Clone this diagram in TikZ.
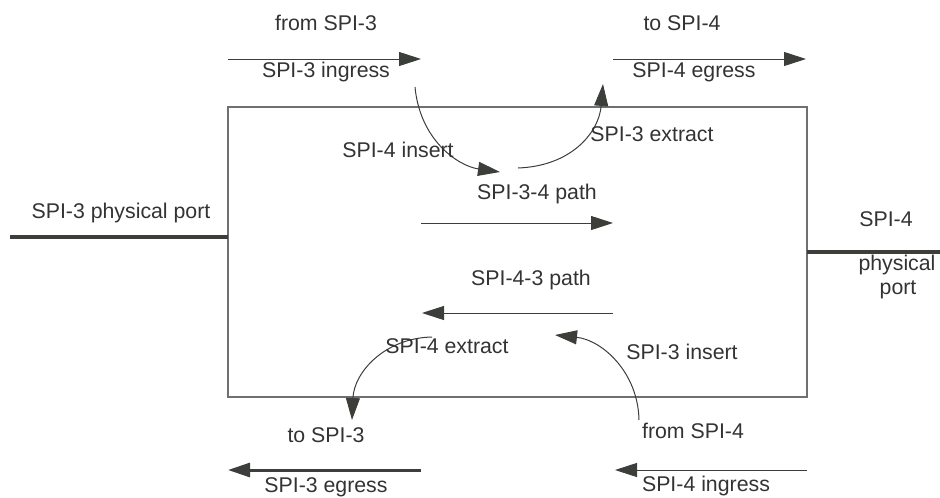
\documentclass[tikz,border=0pt]{standalone}
\usepackage{fontspec}
\setmainfont{Liberation Sans}
\usetikzlibrary{arrows.meta}
\definecolor{ink}{HTML}{3C3E3A}
\definecolor{txt}{HTML}{333333}
\definecolor{boxc}{HTML}{707070}
\begin{document}
\begin{tikzpicture}[x=1pt,y=-1pt,
  lbl/.style={anchor=base,inner sep=0pt,text=txt,font=\fontsize{21.3}{24}\selectfont},
  thin arrow/.style={draw=ink,line width=1pt,-{Triangle[length=22pt,width=14pt]}},
  thick line/.style={draw=ink,line width=4.5pt},
  boxstyle/.style={draw=boxc,line width=1.2pt}]
\useasboundingbox (0,0) rectangle (940,498);
% box
\coordinate (bl) at (228,107);
\coordinate (br) at (807,397);
\draw[boxstyle] (bl) rectangle (br);
% physical ports
\coordinate (p3a) at (10,237);
\coordinate (p3b) at (228,237);
\coordinate (p4a) at (807,252);
\coordinate (p4b) at (940,252);
\draw[thick line] (p3a) -- (p3b);
\draw[thick line] (p4a) -- (p4b);
% top arrows
\coordinate (ig1) at (228,59);
\coordinate (ig2) at (421,59);
\coordinate (eg1) at (613,59);
\coordinate (eg2) at (806,59);
\draw[thin arrow] (ig1) -- (ig2);
\draw[thin arrow] (eg1) -- (eg2);
% path arrows
\coordinate (pa1) at (421,223);
\coordinate (pa2) at (613,223);
\coordinate (pb1) at (613,313);
\coordinate (pb2) at (422,313);
\draw[thin arrow] (pa1) -- (pa2);
\draw[thin arrow] (pb1) -- (pb2);
% bottom arrows
\coordinate (si1) at (807,470);
\coordinate (si2) at (615,470);
\coordinate (se1) at (421,470);
\coordinate (se2) at (228,470);
\draw[thin arrow] (si1) -- (si2);
\draw[thin arrow,line width=3pt] (se1) -- (se2);
% curves
\coordinate (c1a) at (415,87);
\coordinate (c1b) at (500,172);
\draw[thin arrow] (c1a) .. controls (420,140) and (458,166) .. (c1b);
\coordinate (c2a) at (518,168);
\coordinate (c2b) at (603,84);
\draw[thin arrow] (c2a) .. controls (572,166) and (599,132) .. (c2b);
\coordinate (c3a) at (432,337);
\coordinate (c3b) at (352,420);
\draw[thin arrow] (c3a) .. controls (385,338) and (354,372) .. (c3b);
\coordinate (c4a) at (639,420);
\coordinate (c4b) at (555,335);
\draw[thin arrow] (c4a) .. controls (638,372) and (602,340) .. (c4b);
% labels
\node[lbl] (t1) at (326,30) {from SPI-3};
\node[lbl] (t2) at (326,77) {SPI-3 ingress};
\node[lbl] (t3) at (682,30) {to SPI-4};
\node[lbl] (t4) at (694,77) {SPI-4 egress};
\node[lbl] (t5) at (398,157) {SPI-4 insert};
\node[lbl] (t6) at (652,141) {SPI-3 extract};
\node[lbl] (t7) at (537,199) {SPI-3-4 path};
\node[lbl] (t8) at (531,285) {SPI-4-3 path};
\node[lbl] (t9) at (447,353) {SPI-4 extract};
\node[lbl] (t10) at (682,359) {SPI-3 insert};
\node[lbl] (t11) at (693,438) {from SPI-4};
\node[lbl] (t12) at (706,491) {SPI-4 ingress};
\node[lbl] (t13) at (326,442) {to SPI-3};
\node[lbl] (t14) at (326,492) {SPI-3 egress};
\node[lbl] (t15) at (121,218) {SPI-3 physical port};
\node[lbl] (t16) at (886,226) {SPI-4};
\node[lbl] (t17) at (897,270) {physical};
\node[lbl] (t18) at (898,294) {port};
\end{tikzpicture}
\end{document}
